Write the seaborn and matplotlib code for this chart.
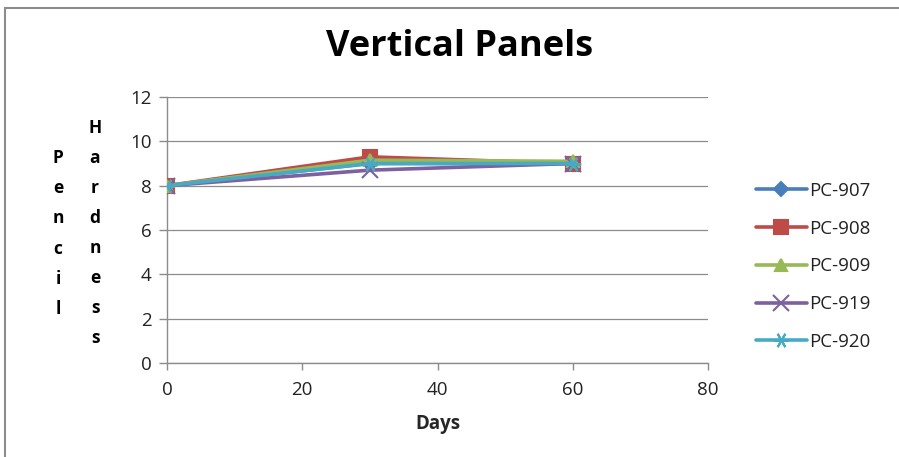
import matplotlib
matplotlib.use("Agg")
import matplotlib.pyplot as plt
from matplotlib.patches import Rectangle
import seaborn as sns
import pandas as pd

days = [0, 30, 60]
pc907 = [8.0, 9.0, 9.0]
pc908 = [8.0, 9.3, 9.0]
pc909 = [8.0, 9.15, 9.1]
pc919 = [8.0, 8.7, 9.0]
pc920 = [8.0, 9.0, 9.0]

series_names = ["PC-907", "PC-908", "PC-909", "PC-919", "PC-920"]
series_values = [pc907, pc908, pc909, pc919, pc920]
colors = ["#4A7EBB", "#BE4B48", "#98B954", "#7D60A0", "#46AAC5"]
markers = ["D", "s", "^", "x", (6, 2, 90)]
msizes = [7, 10, 9, 11, 11]

sns.set_theme(style="white")
plt.rcParams["font.family"] = ["Open Sans", "DejaVu Sans"]

W, H = 899, 457
fig = plt.figure(figsize=(W / 100, H / 100), dpi=100)

# outer chart frame
fig.patches.append(Rectangle((5 / W, -0.1), 1.2, 1 - 8 / H + 0.1, transform=fig.transFigure,
                             fill=False, edgecolor="#8C8C8C", linewidth=1.5))

ax = fig.add_axes([167 / W, 1 - 363 / H, (708 - 167) / W, (363 - 97) / H])

rows = []
for name, vals in zip(series_names, series_values):
    for d, v in zip(days, vals):
        rows.append({"Days": d, "Hardness": v, "Sample": name})
df = pd.DataFrame(rows)

for name, col, mk, ms in zip(series_names, colors, markers, msizes):
    sub = df[df["Sample"] == name]
    sns.lineplot(data=sub, x="Days", y="Hardness", ax=ax, color=col, marker=mk,
                 markersize=ms, linewidth=2.6, label=name,
                 markeredgecolor=col, markeredgewidth=1.5, zorder=3)

ax.set_xlim(0, 80)
ax.set_ylim(0, 12)
ax.set_xticks([0, 20, 40, 60, 80])
ax.set_yticks([0, 2, 4, 6, 8, 10, 12])
ax.grid(axis="y", color="#8C8C8C", linewidth=0.9)
ax.grid(axis="x", visible=False)
for s in ["top", "right"]:
    ax.spines[s].set_visible(False)
for s in ["left", "bottom"]:
    ax.spines[s].set_color("#8C8C8C")
    ax.spines[s].set_linewidth(1.0)
ax.tick_params(axis="both", which="major", length=6, width=1.0, color="#8C8C8C",
               labelsize=13.5, labelcolor="#222222", direction="out", pad=4)
ax.tick_params(axis="x", bottom=True, length=5, pad=8)
ax.tick_params(axis="y", left=True, pad=5)
ax.set_xlabel("Days", fontsize=13.5, fontweight="bold", labelpad=11)
ax.set_ylabel("")

fig.text(460 / W, 1 - 47 / H, "Vertical Panels", ha="center", va="center",
         fontsize=26, fontweight="bold", color="black")

# stacked-letter axis title
for i, ch in enumerate("Pencil"):
    fig.text(58 / W, 1 - (158 + i * 30.2) / H, ch, ha="center", va="center",
             fontsize=12.5, fontweight="bold", color="black")
for i, ch in enumerate("Hardness"):
    fig.text(95 / W, 1 - (128 + i * 30.0) / H, ch, ha="center", va="center",
             fontsize=12.5, fontweight="bold", color="black")

leg = ax.legend(loc="upper left", bbox_to_anchor=(756 / W, 1 - 182 / H),
                bbox_transform=fig.transFigure, frameon=False, fontsize=13.5,
                labelspacing=1.05, handlelength=2.7, handletextpad=0.15,
                borderaxespad=0, borderpad=0)
for t in leg.get_texts():
    t.set_color("#222222")

fig.savefig("out.png", dpi=100)
